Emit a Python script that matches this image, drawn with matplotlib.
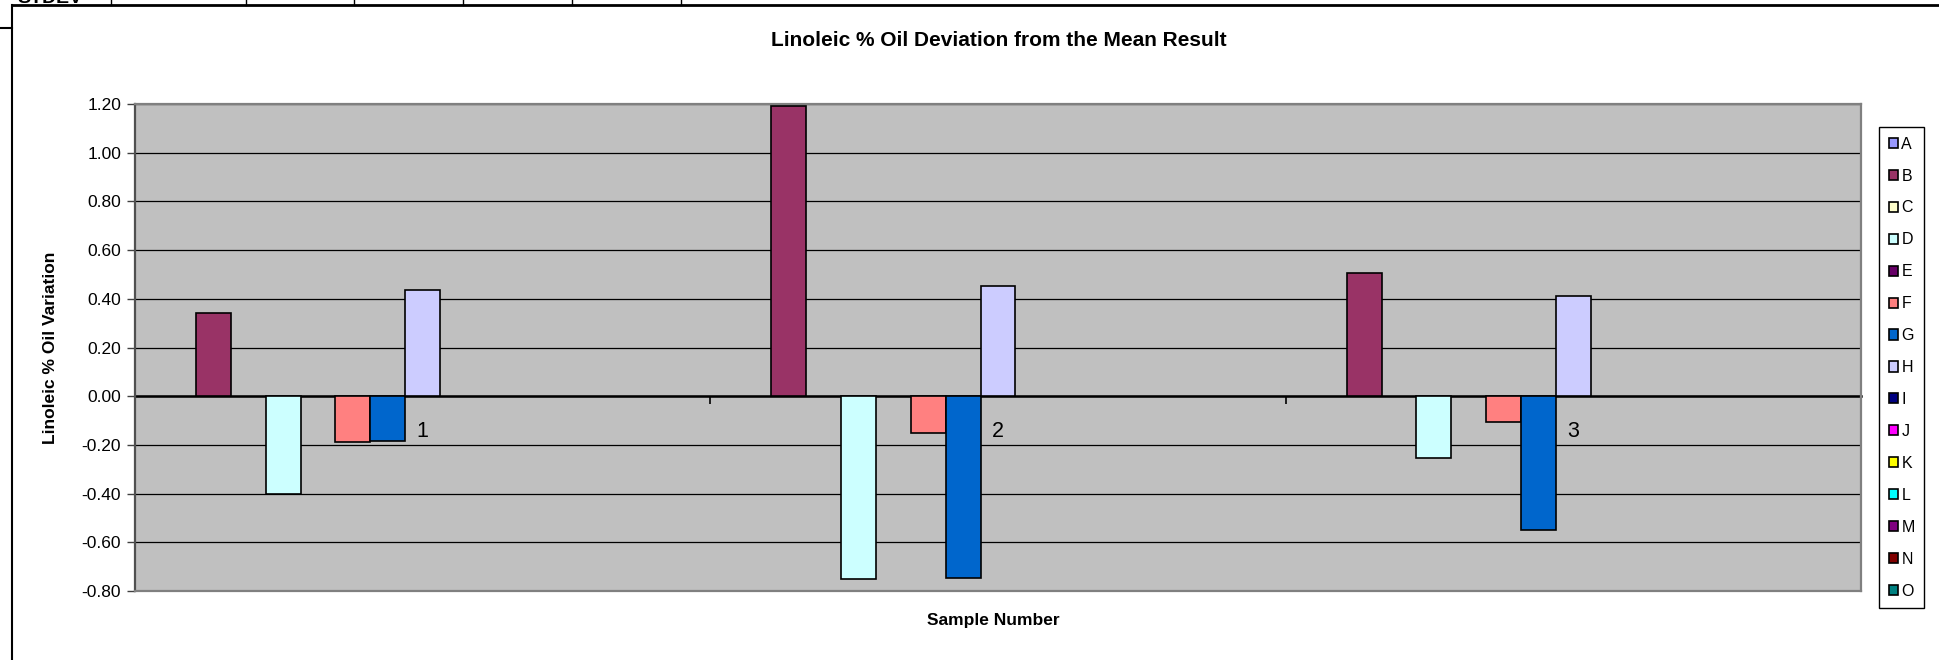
import numpy as np
import matplotlib
matplotlib.use("Agg")
import matplotlib.pyplot as plt
from matplotlib.patches import Patch
from matplotlib.lines import Line2D

plt.rcParams['font.family'] = ['Liberation Sans', 'DejaVu Sans']

# data
samples = ['1', '2', '3']
series = ['A', 'B', 'C', 'D', 'E', 'F', 'G', 'H', 'I', 'J', 'K', 'L', 'M', 'N', 'O']
nan = np.nan
A = [nan, nan, nan]
B = [0.34, 1.19, 0.505]
C = [nan, nan, nan]
D = [-0.40, -0.75, -0.255]
E = [nan, nan, nan]
F = [-0.19, -0.15, -0.105]
G = [-0.185, -0.745, -0.55]
H = [0.435, 0.452, 0.41]
I = [nan, nan, nan]
J = [nan, nan, nan]
K = [nan, nan, nan]
L = [nan, nan, nan]
M = [nan, nan, nan]
N = [nan, nan, nan]
O = [nan, nan, nan]
values = [A, B, C, D, E, F, G, H, I, J, K, L, M, N, O]
yticks = [-0.8, -0.6, -0.4, -0.2, 0.0, 0.2, 0.4, 0.6, 0.8, 1.0, 1.2]

# excel 2003 default series palette
colors = ['#9999FF', '#993366', '#FFFFCC', '#CCFFFF', '#660066', '#FF8080',
          '#0066CC', '#CCCCFF', '#000080', '#FF00FF', '#FFFF00', '#00FFFF',
          '#800080', '#800000', '#008080']

W, Hh = 1939, 660
fig = plt.figure(figsize=(W / 100, Hh / 100), dpi=100)
ax = fig.add_axes([135 / W, 1 - 591 / Hh, (1861 - 135) / W, (591 - 104) / Hh])
ax.set_facecolor('#C0C0C0')

ymin, ymax = yticks[0], yticks[-1]
x = np.arange(len(samples))
bw = 1 / 16.5  # gap width 150%
for i, (name, vals, col) in enumerate(zip(series, values, colors)):
    offs = -0.5 + 0.75 * bw + (i + 0.5) * bw
    ax.bar(x + offs, vals, width=bw, color=col, edgecolor='black',
           linewidth=1.2, zorder=3, label=name)

ax.set_xlim(-0.5, 2.5)
ax.set_ylim(ymin, ymax)
ax.set_yticks(yticks)
ax.set_yticklabels([f'{v:.2f}' for v in yticks], fontsize=12.5)
ax.tick_params(axis='y', length=6, width=1, color='#404040', pad=4)
ax.grid(axis='y', color='black', linewidth=0.9, zorder=1)
ax.set_axisbelow(True)
ax.set_xticks([])
for sp in ax.spines.values():
    sp.set_color('#808080')
    sp.set_linewidth(1.6)
ax.spines['left'].set_color('#505050')

# category axis crossing at zero
zero_pos = (0 - ymin) / (ymax - ymin)
sec = ax.secondary_xaxis(zero_pos)
sec.set_xticks([-0.5, 0.5, 1.5, 2.5])
sec.set_xticklabels([])
sec.set_xticks(x, labels=samples, minor=True)
sec.tick_params(which='major', length=6, width=1.2, direction='out')
sec.tick_params(which='minor', length=0, pad=18, labelsize=15.5)
sec.spines['bottom'].set_linewidth(1.8)
sec.spines['bottom'].set_color('black')

ax.set_ylabel('Linoleic % Oil Variation', fontsize=12.5, fontweight='bold', labelpad=17)
fig.text(999 / W, 1 - 41 / Hh, 'Linoleic % Oil Deviation from the Mean Result',
         ha='center', va='center', fontsize=15, fontweight='bold')
fig.text(993 / W, 1 - 621 / Hh, 'Sample Number', ha='center', va='center',
         fontsize=12.5, fontweight='bold')

handles = [Patch(facecolor=c, edgecolor='black', linewidth=1.2) for c in colors]
leg = fig.legend(handles, series, loc='upper left',
                 bbox_to_anchor=(1879 / W, 1 - 127 / Hh), fontsize=11.5,
                 handlelength=0.6, handleheight=0.6, handletextpad=0.2,
                 labelspacing=1.06, borderpad=0.6, borderaxespad=0,
                 fancybox=False, framealpha=1, edgecolor='black')
leg.get_frame().set_linewidth(1)

# spreadsheet bits around the chart object
fig.add_artist(Line2D([12 / W, 1], [1 - 5 / Hh, 1 - 5 / Hh], color='black', lw=2))
fig.add_artist(Line2D([12 / W, 12 / W], [0, 1 - 5 / Hh], color='black', lw=1.5))
fig.add_artist(Line2D([0, 12 / W], [1 - 28 / Hh, 1 - 28 / Hh], color='black', lw=1.5))
for cx in [111, 246, 354, 463, 572, 681]:
    fig.add_artist(Line2D([cx / W, cx / W], [1 - 5 / Hh, 1], color='black', lw=1))
fig.text(17 / W, 1 - 3 / Hh, 'STDEV', fontsize=14, fontweight='bold', va='baseline')

fig.savefig('out.png', dpi=100)
